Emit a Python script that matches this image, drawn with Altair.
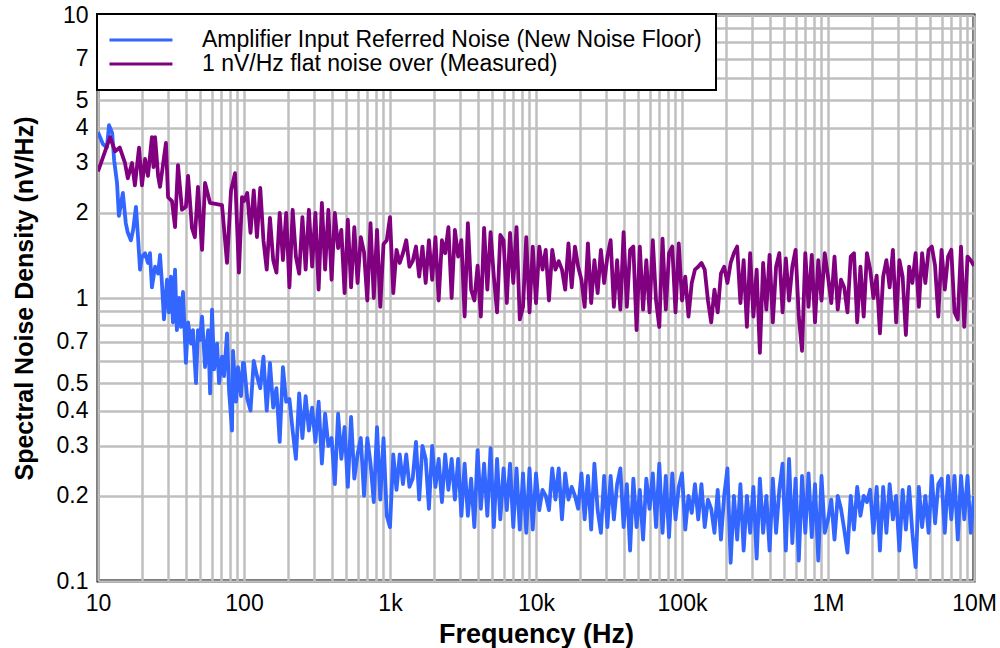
import altair as alt
import pandas as pd

LABEL_AMP = "Amplifier Input Referred Noise (New Noise Floor)"
LABEL_MEAS = "1 nV/Hz flat noise over (Measured)"
COLOR_AMP = "#3366ff"
COLOR_MEAS = "#800080"

# mantissas of the sampling grid used inside each decade (100 Hz .. 10 MHz)
MANT = [1.000, 1.053, 1.108, 1.166, 1.227, 1.292, 1.359, 1.431, 1.506, 1.585,
        1.668, 1.756, 1.848, 1.945, 2.047, 2.154, 2.268, 2.387, 2.512, 2.644,
        2.783, 2.929, 3.083, 3.245, 3.415, 3.594, 3.783, 3.981, 4.190, 4.410,
        4.642, 4.886, 5.142, 5.412, 5.696, 5.995, 6.310, 6.641, 6.990, 7.356,
        7.743, 8.149, 8.577, 9.027, 9.501]

# ---- Amplifier input referred noise (blue) ----
AMP_F_10 = [10, 10.8, 11.5, 11.9, 12.5, 12.9, 13.5, 13.9, 14.8, 15.5,
            16.0, 16.8, 17.4, 18.2, 18.8, 19.4, 20.0, 21.0, 22.0, 22.7,
            23.4, 24.6, 25.8, 26.6, 27.4, 28.3, 29.7, 30.6, 31.6, 32.6,
            33.7, 34.7, 35.9, 37.0, 38.2, 40.0, 41.4, 43.3, 44.7, 46.9,
            48.4, 49.9, 51.6, 54.1, 56.8, 58.6, 60.4, 62.4, 65.4, 67.5,
            70.7, 73.0, 76.5, 79.0, 82.8, 84.1, 88.2, 91.0, 95.4, 98.4]
AMP_V_10 = [3.85, 3.5, 3.4, 4.08, 3.83, 3.07, 2.55, 1.95, 2.35, 1.84,
            1.7, 1.6, 1.74, 2.1, 1.64, 1.26, 1.4, 1.44, 1.33, 1.44,
            1.09, 1.29, 1.22, 1.42, 1.13, 0.84, 1.16, 0.89, 1.19, 0.82,
            1.26, 0.77, 1.0, 0.79, 1.05, 0.59, 0.82, 0.69, 0.77, 0.5,
            0.77, 0.71, 0.86, 0.57, 0.77, 0.46, 0.91, 0.56, 0.69, 0.5,
            0.62, 0.53, 0.75, 0.47, 0.34, 0.65, 0.43, 0.57, 0.45, 0.59]
AMP_V_100 = [0.59, 0.44, 0.4, 0.6, 0.53, 0.48, 0.62, 0.4, 0.59, 0.41,
             0.48, 0.31, 0.57, 0.43, 0.44, 0.34, 0.27, 0.46, 0.32, 0.45,
             0.34, 0.41, 0.31, 0.43, 0.26, 0.39, 0.3, 0.32, 0.22, 0.39,
             0.27, 0.35, 0.215, 0.38, 0.23, 0.28, 0.32, 0.2, 0.32, 0.26,
             0.19, 0.35, 0.194, 0.32, 0.17]
AMP_V_1K = [0.155, 0.28, 0.21, 0.28, 0.22, 0.28, 0.215, 0.23, 0.31, 0.194,
            0.3, 0.27, 0.18, 0.3, 0.215, 0.27, 0.19, 0.28, 0.21, 0.27,
            0.194, 0.27, 0.17, 0.26, 0.17, 0.23, 0.155, 0.29, 0.18, 0.26,
            0.17, 0.295, 0.155, 0.27, 0.165, 0.25, 0.178, 0.26, 0.155, 0.25,
            0.152, 0.24, 0.148, 0.25, 0.152]
AMP_V_10K = [0.24, 0.178, 0.21, 0.2, 0.178, 0.25, 0.194, 0.25, 0.165, 0.24,
             0.194, 0.215, 0.2, 0.18, 0.24, 0.165, 0.235, 0.152, 0.26, 0.178,
             0.148, 0.235, 0.155, 0.235, 0.165, 0.22, 0.25, 0.155, 0.22, 0.128,
             0.23, 0.155, 0.21, 0.14, 0.23, 0.18, 0.24, 0.155, 0.26, 0.148,
             0.235, 0.143, 0.24, 0.165, 0.215]
AMP_V_100K = [0.24, 0.152, 0.2, 0.174, 0.22, 0.165, 0.22, 0.155, 0.194, 0.18,
              0.148, 0.21, 0.14, 0.2, 0.25, 0.116, 0.2, 0.14, 0.22, 0.128,
              0.2, 0.148, 0.215, 0.12, 0.23, 0.148, 0.2, 0.128, 0.23, 0.148,
              0.21, 0.26, 0.128, 0.27, 0.136, 0.23, 0.118, 0.235, 0.148, 0.24,
              0.143, 0.22, 0.118, 0.235, 0.148]
AMP_V_1M = [0.165, 0.194, 0.14, 0.2, 0.18, 0.152, 0.126, 0.2, 0.152, 0.215,
            0.17, 0.2, 0.19, 0.21, 0.148, 0.215, 0.128, 0.215, 0.148, 0.22,
            0.165, 0.2, 0.128, 0.21, 0.152, 0.215, 0.148, 0.112, 0.215, 0.155,
            0.2, 0.148, 0.235, 0.16, 0.22, 0.23, 0.148, 0.235, 0.165, 0.235,
            0.14, 0.235, 0.165, 0.235, 0.148]
AMP_END = 0.2

# ---- 1 nV/Hz measured (purple) ----
MEAS_F_10 = [10, 12.1, 13.1, 14.1, 15.3, 16.0, 17.1, 17.9, 19.1, 20.0,
             21.0, 22.0, 23.4, 24.0, 24.6, 25.8, 26.6, 29.2, 30.2, 32.1,
             33.7, 35.3, 37.6, 40.0, 41.4, 44.0, 46.1, 48.4, 51.6, 54.1,
             58.5, 70.7, 76.5, 81.5, 86.8, 92.3, 96.9]
MEAS_V_10 = [2.8, 3.7, 3.3, 3.4, 3.0, 2.65, 3.0, 2.5, 3.4, 2.5,
             3.1, 2.7, 3.7, 2.9, 3.7, 2.7, 2.47, 3.53, 2.27, 2.2,
             1.78, 2.95, 2.05, 2.1, 2.7, 1.77, 1.64, 2.47, 1.48, 2.55,
             2.17, 2.13, 1.33, 2.4, 2.76, 1.23, 2.27]
MEAS_V_100 = [2.2, 2.35, 1.7, 2.4, 1.64, 2.45, 1.6, 1.26, 1.92, 1.36,
              1.23, 2.0, 1.36, 2.0, 1.09, 2.05, 1.4, 1.22, 1.93, 1.26,
              2.05, 1.29, 2.0, 1.07, 2.17, 1.26, 2.05, 1.16, 2.0, 1.5,
              1.74, 1.04, 1.89, 1.09, 1.78, 1.13, 1.64, 1.45, 0.98, 1.84,
              1.0, 1.74, 0.93, 1.55, 1.6]
MEAS_V_1K = [1.93, 1.04, 1.48, 1.33, 1.44, 1.6, 1.29, 1.35, 1.52, 1.19,
             1.52, 1.13, 1.6, 1.16, 1.64, 0.98, 1.6, 1.44, 1.78, 1.0,
             1.74, 1.4, 1.6, 0.86, 1.84, 1.07, 0.98, 1.3, 0.86, 1.77,
             1.07, 1.71, 1.19, 0.89, 1.67, 1.6, 0.96, 1.7, 1.13, 1.78,
             0.84, 0.93, 1.64, 0.89, 1.52]
MEAS_V_10K = [0.96, 1.52, 1.26, 1.48, 0.98, 1.48, 1.26, 1.35, 1.26, 1.07,
              1.56, 1.09, 1.52, 1.29, 1.16, 0.93, 1.56, 0.96, 1.36, 1.04,
              1.48, 1.13, 1.4, 1.6, 0.93, 1.36, 0.91, 1.71, 0.93, 1.48,
              1.52, 0.77, 1.52, 0.91, 1.36, 0.89, 1.6, 0.98, 0.79, 1.62,
              0.91, 1.44, 1.52, 0.89, 1.56]
MEAS_V_100K = [0.98, 1.19, 0.86, 1.13, 1.26, 1.29, 1.33, 1.26, 0.98, 0.82,
               1.07, 0.89, 1.22, 1.29, 1.13, 1.33, 1.44, 1.52, 0.96, 1.36,
               0.79, 1.44, 0.86, 1.26, 0.64, 1.33, 0.91, 1.42, 0.82, 1.29,
               1.44, 0.89, 1.38, 0.98, 1.29, 1.48, 0.86, 0.65, 1.44, 0.93,
               1.42, 0.82, 1.36, 0.98, 1.44]
MEAS_V_1M = [1.19, 0.96, 1.4, 0.91, 1.16, 1.09, 0.89, 1.4, 1.44, 0.82,
             1.29, 0.86, 1.44, 1.26, 1.0, 1.2, 0.75, 1.19, 1.36, 1.09,
             1.48, 0.82, 1.36, 1.19, 0.74, 1.29, 1.13, 1.44, 0.93, 1.44,
             1.13, 1.48, 1.52, 1.3, 0.86, 1.48, 1.07, 1.4, 1.48, 0.89,
             0.84, 1.52, 0.79, 1.4, 1.36]
MEAS_END = 1.3

# ---- axis ticks ----
X_GRID = [m * 10 ** d for d in range(1, 7) for m in range(1, 10)] + [10 ** 7]
X_LABELED = [10, 100, 1000, 10000, 100000, 1000000, 10000000]
Y_GRID = [0.1, 0.2, 0.3, 0.4, 0.5, 0.6, 0.7, 0.8, 0.9,
          1, 2, 3, 4, 5, 6, 7, 8, 9, 10]
Y_LABELED = [0.1, 0.2, 0.3, 0.4, 0.5, 0.7, 1, 2, 3, 4, 5, 7, 10]


def build(name, f10, v10, decade_vals, end_v):
    rows = [(f, v) for f, v in zip(f10, v10)]
    for d, vals in zip(range(2, 7), decade_vals):
        rows += [(m * 10 ** d, v) for m, v in zip(MANT, vals)]
    rows.append((10 ** 7, end_v))
    df = pd.DataFrame(rows, columns=["freq", "noise"])
    df["series"] = name
    df["order"] = range(len(df))
    return df


amp_df = build(LABEL_AMP, AMP_F_10, AMP_V_10,
               [AMP_V_100, AMP_V_1K, AMP_V_10K, AMP_V_100K, AMP_V_1M], AMP_END)
meas_df = build(LABEL_MEAS, MEAS_F_10, MEAS_V_10,
                [MEAS_V_100, MEAS_V_1K, MEAS_V_10K, MEAS_V_100K, MEAS_V_1M], MEAS_END)

FONT = "Liberation Sans"

x_enc = alt.X(
    "freq:Q",
    scale=alt.Scale(type="log", domain=[10, 1e7], nice=False),
    axis=alt.Axis(
        values=X_GRID,
        format="~s",
        labelExpr="indexof(%s, datum.value) >= 0 ? datum.label : ''" % X_LABELED,
        title="Frequency (Hz)",
        titleFontSize=27,
        labelPadding=11,
        titlePadding=6,
        labelFlush=False,
        labelOverlap=False,
    ),
)
y_enc = alt.Y(
    "noise:Q",
    scale=alt.Scale(type="log", domain=[0.1, 10], nice=False),
    axis=alt.Axis(
        values=Y_GRID,
        format="~g",
        labelExpr="indexof(%s, datum.value) >= 0 ? datum.label : ''" % Y_LABELED,
        title="Spectral Noise Density (nV/Hz)",
        titleFontSize=25,
        labelPadding=10,
        titlePadding=19,
        labelFlush=False,
        labelOverlap=False,
    ),
)
color_enc = alt.Color(
    "series:N",
    scale=alt.Scale(domain=[LABEL_AMP, LABEL_MEAS], range=[COLOR_AMP, COLOR_MEAS]),
    legend=alt.Legend(
        title=None,
        orient="none",
        legendX=-1,
        legendY=-1,
        symbolType="M-1.29,0H4.71",
        symbolSize=441,
        symbolStrokeWidth=3,
        labelFont=FONT,
        labelFontSize=23,
        labelColor="black",
        labelLimit=1000,
        labelOffset=67,
        padding=14,
        rowPadding=-3,
        fillColor="white",
        strokeColor="black",
    ),
)

amp = alt.Chart(amp_df).mark_line(strokeWidth=3.8, clip=True, strokeJoin="round").encode(
    x=x_enc, y=y_enc, color=color_enc, order="order:Q")
meas = alt.Chart(meas_df).mark_line(strokeWidth=3.8, clip=True, strokeJoin="round").encode(
    x=x_enc, y=y_enc, color=color_enc, order="order:Q")

chart = (
    alt.layer(amp, meas)
    .properties(
        width=876,
        height=566,
        padding={"left": 98, "top": 15, "right": 26, "bottom": 67},
        autosize=alt.AutoSizeParams(type="none"),
        background="white",
    )
    .configure_view(stroke="black", strokeWidth=3)
    .configure_axis(
        grid=True,
        gridColor="#bfbfbf",
        gridWidth=2.5,
        ticks=False,
        domain=False,
        labelFont=FONT,
        labelFontSize=23,
        labelColor="black",
        titleFont=FONT,
        titleFontWeight="bold",
        titleColor="black",
    )
    .configure_legend(strokeWidth=2)
)

chart.save("out.html", embed_options={"renderer": "svg", "actions": False})
